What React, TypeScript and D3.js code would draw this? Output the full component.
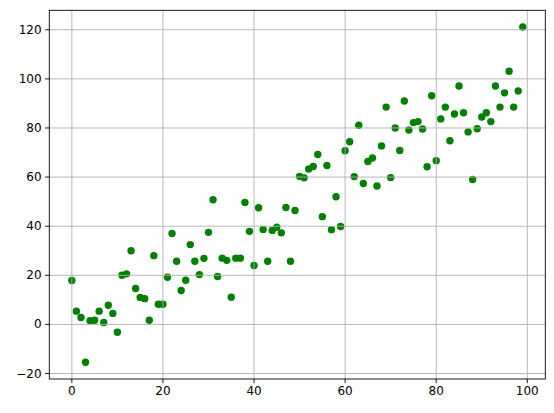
import React from "react";
import * as d3 from "d3";

const xValues: number[] = d3.range(0, 100);
const yValues: number[] = [
  17.9, 5.4, 2.8, -15.4, 1.5, 1.7, 5.4, 0.8, 7.8, 4.5,
  -3.2, 20.0, 20.6, 30.0, 14.6, 11.0, 10.5, 1.7, 28.0, 8.2,
  8.2, 19.2, 37.0, 25.7, 13.8, 18.0, 32.5, 25.7, 20.3, 26.9,
  37.5, 50.8, 19.5, 27.0, 26.1, 11.1, 27.0, 27.0, 49.7, 37.9,
  24.0, 47.5, 38.7, 25.7, 38.3, 39.6, 37.3, 47.6, 25.7, 46.4,
  60.3, 59.7, 63.3, 64.3, 69.2, 43.9, 64.7, 38.6, 52.0, 39.9,
  70.7, 74.4, 60.2, 81.1, 57.4, 66.4, 67.8, 56.4, 72.7, 88.5,
  59.8, 80.0, 70.8, 91.0, 79.2, 82.2, 82.6, 79.6, 64.2, 93.1,
  66.7, 83.7, 88.5, 74.8, 85.7, 97.1, 86.2, 78.4, 59.0, 79.7,
  84.5, 86.2, 82.6, 97.1, 88.5, 94.3, 103.1, 88.5, 95.1, 121.1,
];
const xTicks: number[] = [0, 20, 40, 60, 80, 100];
const yTicks: number[] = [-20, 0, 20, 40, 60, 80, 100, 120];

const W = 554;
const H = 413;
const L = 49.3;
const R = 545.3;
const T = 10.3;
const B = 379;

export default function App() {
  const xMin = d3.min(xValues)!;
  const xMax = d3.max(xValues)!;
  const yMin = d3.min(yValues)!;
  const yMax = d3.max(yValues)!;
  const xm = (xMax - xMin) * 0.05;
  const ym = (yMax - yMin) * 0.05;
  const x = d3.scaleLinear().domain([xMin - xm, xMax + xm]).range([L, R]);
  const y = d3.scaleLinear().domain([yMin - ym, yMax + ym]).range([B, T]);
  const font = "'DejaVu Sans', sans-serif";
  const tickLen = 4.2;
  return (
    <svg
      width={W}
      height={H}
      style={{ position: "absolute", left: 0, top: 0, background: "#fff" }}
    >
      <rect x={0} y={0} width={W} height={H} fill="#fff" />
      <g>
        {xValues.map((xv, i) => (
          <circle key={i} cx={x(xv)} cy={y(yValues[i])} r={3.7} fill="#008000" />
        ))}
      </g>
      <g stroke="#b0b0b0" strokeWidth={0.9}>
        {xTicks.map((t) => (
          <line key={"gx" + t} x1={x(t)} x2={x(t)} y1={T} y2={B} />
        ))}
        {yTicks.map((t) => (
          <line key={"gy" + t} x1={L} x2={R} y1={y(t)} y2={y(t)} />
        ))}
      </g>
      <g stroke="#000" strokeWidth={0.9}>
        {xTicks.map((t) => (
          <line key={"tx" + t} x1={x(t)} x2={x(t)} y1={B} y2={B + tickLen} />
        ))}
        {yTicks.map((t) => (
          <line key={"ty" + t} x1={L - tickLen} x2={L} y1={y(t)} y2={y(t)} />
        ))}
      </g>
      <rect x={L} y={T} width={R - L} height={B - T} fill="none" stroke="#000" strokeWidth={0.9} />
      <g fontFamily={font} fontSize={12} fill="#000">
        {xTicks.map((t) => (
          <text key={"lx" + t} x={x(t)} y={B + tickLen + 3.5} textAnchor="middle" dominantBaseline="hanging">
            {t}
          </text>
        ))}
        {yTicks.map((t) => (
          <text key={"ly" + t} x={L - tickLen - 3.5} y={y(t)} textAnchor="end" dominantBaseline="central">
            {t < 0 ? "\u2212" + Math.abs(t) : t}
          </text>
        ))}
      </g>
    </svg>
  );
}
